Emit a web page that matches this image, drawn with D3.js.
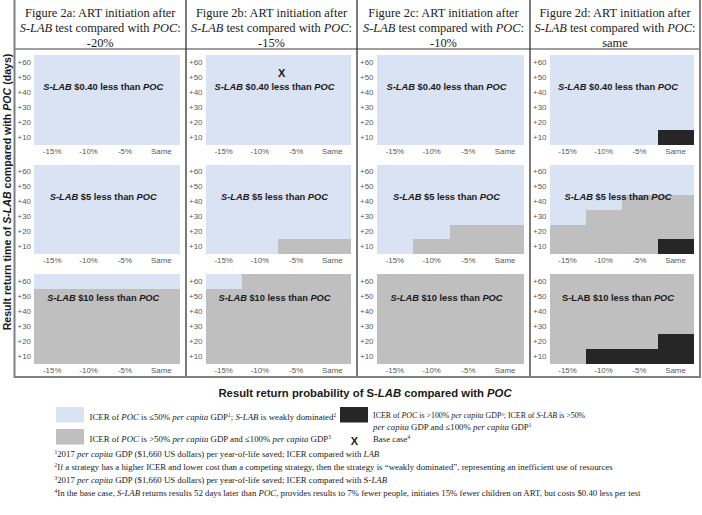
<!DOCTYPE html>
<html><head><meta charset="utf-8">
<script src="https://cdn.jsdelivr.net/npm/d3@7"></script>
<style>body{margin:0;background:#fff}svg{display:block}</style>
</head><body>
<script>
// ---------- data ----------
const panelIds = ["2a", "2b", "2c", "2d"];
const artChange = ["-20%", "-15%", "-10%", "same"];
const probCats = ["-15%", "-10%", "-5%", "Same"];
const probValues = [-15, -10, -5, 0];
const timeCats = ["+10", "+20", "+30", "+40", "+50", "+60"];
const timeValues = [10, 20, 30, 40, 50, 60];
const costLabels = ["$0.40", "$5", "$10"];
// upper edge (days) of grey region per probability column; [panel][costRow][probCol]
const greyUpTo = [
  [[0,0,0,0],[0,0,0,0],[50,50,50,50]],
  [[0,0,0,0],[0,0,10,10],[50,60,60,60]],
  [[0,0,0,0],[0,10,20,20],[60,60,60,60]],
  [[0,0,0,0],[20,30,40,40],[60,60,60,60]]
];
// upper edge (days) of dark region
const darkUpTo = [
  [[0,0,0,0],[0,0,0,0],[0,0,0,0]],
  [[0,0,0,0],[0,0,0,0],[0,0,0,0]],
  [[0,0,0,0],[0,0,0,0],[0,0,0,0]],
  [[0,0,0,10],[0,0,0,10],[0,10,10,20]]
];
const baseCase = {panel: 1, row: 0, prob: -7, days: 52};
const footnotes = [
  [{t:"1",s:1},{t:"2017 "},{t:"per capita",i:1},{t:" GDP ($1,660 US dollars) per year-of-life saved; ICER compared with "},{t:"LAB",i:1}],
  [{t:"2",s:1},{t:"If a strategy has a higher ICER and lower cost than a competing strategy, then the strategy is “weakly dominated”, representing an inefficient use of resources"}],
  [{t:"3",s:1},{t:"2017 "},{t:"per capita",i:1},{t:" GDP ($1,660 US dollars) per year-of-life saved; ICER compared with S-"},{t:"LAB",i:1}],
  [{t:"4",s:1},{t:"In the base case, "},{t:"S-LAB",i:1},{t:" returns results 52 days later than "},{t:"POC",i:1},{t:", provides results to 7% fewer people, initiates 15% fewer children on ART, but costs $0.40 less per test"}]
];

// ---------- drawing ----------
const W = 702, H = 515;
const C = {blue:"#dae3f3", grey:"#bfbfbf", dark:"#262626"};
const svg = d3.select("body").append("svg").attr("width", W).attr("height", H);
const SERIF = "'Liberation Serif','Times New Roman',serif";
const SANS = "'Liberation Sans',Arial,sans-serif";

function rich(sel, segs, size) {
  segs.forEach(sg => {
    const ts = sel.append("tspan").text(sg.t);
    if (sg.i) ts.attr("font-style", "italic");
    if (sg.b) ts.attr("font-weight", "bold");
    if (sg.s) { ts.attr("font-size", size * 0.62).attr("baseline-shift", "super"); }
  });
}

const colEdges = [14.5, 186, 357, 530, 700];
const tableTop = 0, headerY = 49, tableBottom = 377;
const rowTops = [55, 164.5, 274];
const plotH = 89.5;

// table lines
const lines = svg.append("g");
lines.append("line").attr("x1", colEdges[0]).attr("x2", colEdges[4]).attr("y1", headerY).attr("y2", headerY)
  .attr("stroke", "#404040").attr("stroke-width", 1.2);
colEdges.slice(1, 4).forEach(x => lines.append("line").attr("x1", x).attr("x2", x).attr("y1", tableTop).attr("y2", tableBottom)
  .attr("stroke", "#333").attr("stroke-width", 1.3));
lines.append("path").attr("d", `M${colEdges[0]},${tableTop}V${tableBottom}H${colEdges[4]}V${tableTop}`)
  .attr("fill", "none").attr("stroke", "#808080").attr("stroke-width", 2);

const HF = 12.4;
panelIds.forEach((pid, p) => {
  const x0 = colEdges[p], x1 = colEdges[p + 1];
  const cx = (x0 + x1) / 2;
  // header
  const hd = svg.append("text").attr("font-family", SERIF).attr("font-size", HF).attr("fill", "#222").attr("text-anchor", "middle");
  hd.append("tspan").attr("x", cx).attr("y", 17.3).text(`Figure ${pid}: ART initiation after`);
  const l2 = hd.append("tspan").attr("x", cx).attr("y", 32.2);
  rich(l2, [{t:"S-LAB",i:1},{t:" test compared with "},{t:"POC",i:1},{t:":"}], HF);
  hd.append("tspan").attr("x", cx).attr("y", 46.6).text(artChange[p]);

  const left = x0 + 19.5, right = x1 - 6.5;
  const xb = d3.scaleBand().domain(probCats).range([left, right]);
  const xl = d3.scaleLinear().domain([probValues[0], probValues[3]])
    .range([xb(probCats[0]) + xb.bandwidth() / 2, xb(probCats[3]) + xb.bandwidth() / 2]);

  costLabels.forEach((cost, r) => {
    const top = rowTops[r];
    const yb = d3.scaleBand().domain(timeCats).range([top + plotH, top]);
    const yl = d3.scaleLinear().domain([timeValues[0], timeValues[5]])
      .range([yb(timeCats[0]) + yb.bandwidth() / 2, yb(timeCats[5]) + yb.bandwidth() / 2]);
    const g = svg.append("g");
    const cells = [];
    probCats.forEach((pc, i) => timeCats.forEach((tc, j) => {
      const d = timeValues[j];
      const col = d <= darkUpTo[p][r][i] ? C.dark : d <= greyUpTo[p][r][i] ? C.grey : C.blue;
      cells.push({pc, tc, col});
    }));
    g.selectAll("rect").data(cells).join("rect")
      .attr("x", d => xb(d.pc)).attr("y", d => yb(d.tc))
      .attr("width", xb.bandwidth() + 0.4).attr("height", yb.bandwidth() + 0.4)
      .attr("fill", d => d.col).attr("shape-rendering", "crispEdges");

    // axes
    const ya = d3.axisLeft(yb).tickSize(0).tickPadding(3);
    const yg = svg.append("g").attr("transform", `translate(${left},0)`).call(ya);
    const xa = d3.axisBottom(xb).tickSize(0).tickPadding(3.5);
    const xg = svg.append("g").attr("transform", `translate(0,${top + plotH})`).call(xa);
    [yg, xg].forEach(a => {
      a.select(".domain").remove();
      a.selectAll("text").attr("font-family", SANS).attr("font-size", 7.9).attr("fill", "#595959");
    });

    // label
    const LS = 9.3;
    const lblY = r < 2 ? top + 35 : top + 26.5;
    const lt = svg.append("text").attr("x", (left + right) / 2 - 3.5).attr("y", lblY)
      .attr("text-anchor", "middle").attr("font-family", SANS).attr("font-weight", "bold")
      .attr("font-size", LS).attr("fill", "#1a1a1a");
    const slabItalic = !(p === 3 && r === 2);
    rich(lt, [{t:"S-LAB",i:slabItalic?1:0},{t:` ${cost} less than `},{t:"POC",i:1}], LS);

    if (baseCase.panel === p && baseCase.row === r) {
      svg.append("text").attr("x", xl(baseCase.prob)).attr("y", yl(baseCase.days))
        .attr("text-anchor", "middle").attr("dy", "0.2em")
        .attr("font-family", SANS).attr("font-weight", "bold").attr("font-size", 11).attr("fill", "#1a1a1a").text("X");
    }
  });
});

// axis titles
const YF = 10.6;
const yt = svg.append("text").attr("transform", "translate(10.5,192) rotate(-90)")
  .attr("text-anchor", "middle").attr("font-family", SANS).attr("font-weight", "bold").attr("font-size", YF).attr("fill", "#1a1a1a");
rich(yt, [{t:"Result return time of "},{t:"S-LAB",i:1},{t:" compared with "},{t:"POC",i:1},{t:" (days)"}], YF);
const XF = 11.3;
const xt = svg.append("text").attr("x", 365).attr("y", 397)
  .attr("text-anchor", "middle").attr("font-family", SANS).attr("font-weight", "bold").attr("font-size", XF).attr("fill", "#1a1a1a");
rich(xt, [{t:"Result return probability of S-"},{t:"LAB",i:1},{t:" compared with "},{t:"POC",i:1}], XF);

// legend
const LF = 8.8;
const leg = svg.append("g").attr("font-family", SERIF).attr("font-size", LF).attr("fill", "#222");
leg.append("rect").attr("x", 56).attr("y", 407).attr("width", 28).attr("height", 15.5).attr("fill", C.blue);
leg.append("rect").attr("x", 56).attr("y", 429).attr("width", 28).attr("height", 15.5).attr("fill", C.grey);
leg.append("rect").attr("x", 340).attr("y", 407).attr("width", 28).attr("height", 15.5).attr("fill", C.dark);
rich(leg.append("text").attr("x", 89.5).attr("y", 420),
  [{t:"ICER of "},{t:"POC",i:1},{t:" is ≤50% "},{t:"per capita",i:1},{t:" GDP"},{t:"1",s:1},{t:"; "},{t:"S-LAB",i:1},{t:" is weakly dominated"},{t:"2",s:1}], LF);
rich(leg.append("text").attr("x", 89.5).attr("y", 442),
  [{t:"ICER of "},{t:"POC",i:1},{t:" is >50% "},{t:"per capita",i:1},{t:" GDP and ≤100% "},{t:"per capita",i:1},{t:" GDP"},{t:"3",s:1}], LF);
const LF2 = 7.9;
rich(leg.append("text").attr("x", 373).attr("y", 418).attr("font-size", LF2),
  [{t:"ICER of "},{t:"POC",i:1},{t:" is >100% "},{t:"per capita",i:1},{t:" GDP"},{t:"3",s:1},{t:"; ICER of "},{t:"S-LAB",i:1},{t:" is >50%"}], LF2);
rich(leg.append("text").attr("x", 373).attr("y", 429.5),
  [{t:"per capita",i:1},{t:" GDP  and ≤100% "},{t:"per capita",i:1},{t:" GDP"},{t:"1",s:1}], LF);
svg.append("text").attr("x", 354.5).attr("y", 445).attr("text-anchor", "middle")
  .attr("font-family", SANS).attr("font-weight", "bold").attr("font-size", 11).attr("fill", "#1a1a1a").text("X");
rich(leg.append("text").attr("x", 373).attr("y", 442), [{t:"Base case"},{t:"4",s:1}], LF);

// footnotes
const FF = 8.8;
footnotes.forEach((segs, k) => {
  rich(svg.append("text").attr("x", 54.5).attr("y", 457 + k * 13).attr("font-family", SERIF)
    .attr("font-size", FF).attr("fill", "#222"), segs, FF);
});
</script>
</body></html>
